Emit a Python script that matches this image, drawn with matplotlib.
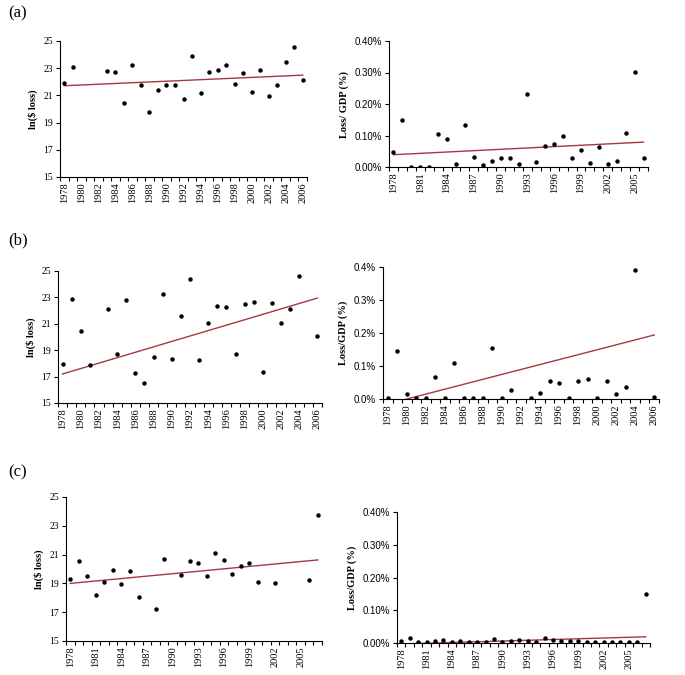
import numpy as np
import matplotlib.pyplot as plt

nan = np.nan

# years on the category axis
years_ab = list(range(1978, 2007))
years_c = list(range(1978, 2008))

# panel (a)
a_ln_loss = [21.93, 23.10, nan, nan, nan, 22.78, 22.73, 20.46, 23.20, 21.73,
             19.78, 21.37, 21.73, 21.73, 20.71, 23.93, 21.17, 22.70, 22.85,
             23.20, 21.85, 22.68, 21.27, 22.88, 20.98, 21.78, 23.46, 24.56,
             22.10]
a_loss_gdp = [0.048, 0.150, 0.001, 0.001, 0.001, 0.105, 0.090, 0.011, 0.133,
              0.031, 0.006, 0.020, 0.029, 0.029, 0.010, 0.231, 0.015, 0.066,
              0.073, 0.099, 0.027, 0.053, 0.013, 0.063, 0.010, 0.020, 0.108,
              0.302, 0.027]

# panel (b)
b_ln_loss = [17.98, 22.90, 20.45, 17.90, nan, 22.15, 18.71, 22.78, 17.27,
             16.49, 18.46, 23.26, 18.36, 21.57, 24.39, 18.26, 21.04, 22.35,
             22.30, 18.69, 22.47, 22.68, 17.32, 22.55, 21.04, 22.15, 24.62,
             nan, 20.05]
b_loss_gdp = [0.004, 0.145, 0.014, 0.004, 0.002, 0.066, 0.004, 0.109, 0.002,
              0.002, 0.004, 0.156, 0.004, 0.028, nan, 0.002, 0.017, 0.054,
              0.049, 0.004, 0.054, 0.062, 0.002, 0.054, 0.014, 0.036, 0.391,
              nan, 0.006]

# panel (c)
c_ln_loss = [19.31, 20.58, 19.54, 18.20, 19.08, 19.95, 18.96, 19.86, 18.06,
             nan, 17.22, 20.69, nan, 19.61, 20.58, 20.39, 19.54, 21.11, 20.63,
             19.65, 20.21, 20.39, 19.08, nan, 19.05, nan, nan, nan, 19.24,
             23.73]
c_loss_gdp = [0.005, 0.015, 0.003, 0.003, 0.005, 0.008, 0.003, 0.006, 0.003,
              0.002, 0.002, 0.013, 0.003, 0.005, 0.010, 0.006, 0.004, 0.014,
              0.008, 0.005, 0.006, 0.006, 0.004, 0.003, 0.004, 0.003, 0.003,
              0.003, 0.004, 0.151]

# trend lines as drawn in the original (value at first year, value at last year)
a_ln_trend = [21.71, 22.49]
a_gdp_trend = [0.039, 0.079]
b_ln_trend = [17.20, 22.95]
b_gdp_trend = [-0.015, 0.194]
c_ln_trend = [19.00, 20.63]
c_gdp_trend = [-0.003, 0.019]

ln_ticks = [15, 17, 19, 21, 23, 25]
pct_ticks = [0.0, 0.1, 0.2, 0.3, 0.4]

SERIF = 'Liberation Serif'
SANS = 'Liberation Sans'
TREND = '#a33a40'

W, H = 685, 675
fig = plt.figure(figsize=(W / 100, H / 100), dpi=100)


def add_axes_px(x0, x1, ytop, ybot):
    return fig.add_axes([x0 / W, 1 - ybot / H, (x1 - x0) / W, (ybot - ytop) / H])


def draw_panel(ax, years, values, trend, step, ylabel, ylim, yticks,
               yticklabels, ytick_font):
    x = np.array(years, dtype=float)
    y = np.array(values, dtype=float)
    ok = ~np.isnan(y)
    ax.plot(x[ok], y[ok], linestyle='none', marker='o', ms=2.2,
            color='black', zorder=3)
    ax.plot([x[0], x[-1]], trend, color=TREND, lw=1.0, zorder=2)

    ax.set_xlim(x[0] - 0.5, x[-1] + 0.5)
    ax.set_ylim(*ylim)
    ax.set_xticks(x[::step])
    ax.set_xticklabels([str(v) for v in years[::step]], rotation=90,
                       fontfamily=SERIF, fontsize=7.5)
    ax.set_xticks(np.arange(x[0] - 0.5, x[-1] + 1.0), minor=True)
    ax.tick_params(axis='x', which='major', length=0, pad=4)
    ax.tick_params(axis='x', which='minor', length=3, direction='out',
                   width=0.8)
    ax.set_yticks(yticks)
    ax.set_yticklabels(yticklabels, fontfamily=ytick_font, fontsize=7)
    ax.tick_params(axis='y', length=3, direction='out', width=0.8, pad=2)
    ax.set_ylabel(ylabel, fontfamily=SERIF, fontweight='bold', fontsize=7.5,
                  labelpad=4)
    for side in ['top', 'right']:
        ax.spines[side].set_visible(False)
    for side in ['left', 'bottom']:
        ax.spines[side].set_linewidth(0.8)
    ax.set_facecolor('none')


ln_labels = [str(v) for v in ln_ticks]
pct2 = ['%.2f%%' % v for v in pct_ticks]
pct1 = ['%.1f%%' % v for v in pct_ticks]

# (a)
ax = add_axes_px(60, 307, 41, 177)
draw_panel(ax, years_ab, a_ln_loss, a_ln_trend, 2, 'ln($ loss)', (15, 25),
           ln_ticks, ln_labels, SERIF)
ax = add_axes_px(389, 648, 41, 167)
draw_panel(ax, years_ab, a_loss_gdp, a_gdp_trend, 3, 'Loss/ GDP (%)',
           (0, 0.4), pct_ticks, pct2, SANS)

# (b)
ax = add_axes_px(58, 322, 271, 403)
draw_panel(ax, years_ab, b_ln_loss, b_ln_trend, 2, 'ln($ loss)', (15, 25),
           ln_ticks, ln_labels, SERIF)
ax = add_axes_px(383, 659, 267, 399)
draw_panel(ax, years_ab, b_loss_gdp, b_gdp_trend, 2, 'Loss/GDP (%)',
           (0, 0.4), pct_ticks, pct1, SANS)

# (c)
ax = add_axes_px(66, 322, 497, 641)
draw_panel(ax, years_c, c_ln_loss, c_ln_trend, 3, 'ln($ loss)', (15, 25),
           ln_ticks, ln_labels, SERIF)
ax = add_axes_px(397, 650, 512, 643)
draw_panel(ax, years_c, c_loss_gdp, c_gdp_trend, 3, 'Loss/GDP (%)',
           (0, 0.4), pct_ticks, pct2, SANS)

for label, ypx in [('(a)', 13), ('(b)', 240), ('(c)', 472)]:
    fig.text(8 / W, 1 - ypx / H, label, fontfamily=SERIF, fontsize=12,
             va='center', ha='left')

fig.savefig('out.png', dpi=100)
